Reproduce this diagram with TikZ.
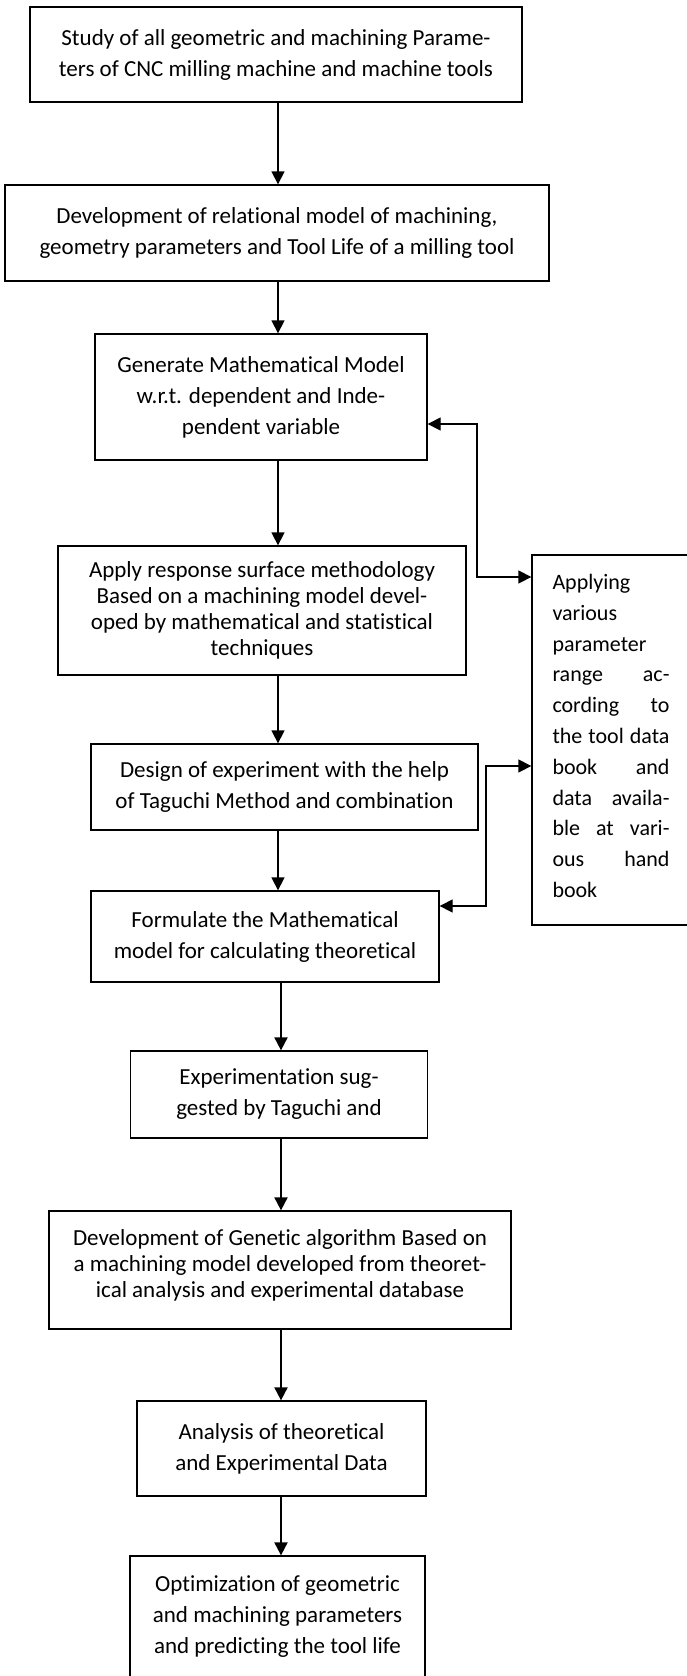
\documentclass[tikz,border=0pt]{standalone}
\usepackage{fontspec}
\setmainfont[Ligatures=NoCommon]{Carlito}
\usetikzlibrary{arrows.meta}

\tikzset{
    stepbox/.style={draw, line width=1.3pt, align=center, inner sep=0pt,
        font=\fontsize{23}{31}\selectfont},
    tightbox/.style={stepbox, font=\fontsize{23}{26}\selectfont},
    arr/.style={line width=1.3pt, -{Triangle[length=13pt, width=13pt]}},
    thickarr/.style={arr, line width=2pt},
    both/.style={line width=1.3pt, {Triangle[length=13pt, width=13pt]}-{Triangle[length=13pt, width=13pt]}},
}

\begin{document}
\begin{tikzpicture}[x=1pt, y=-1pt]
    \useasboundingbox (0, 0) rectangle (687, 1676);

    % main chain
    \node[stepbox, minimum width=492pt, minimum height=95pt]  (study)  at (276, 54.5)
        {Study of all geometric and machining Parame-\\ters of CNC milling machine and machine tools};
    \node[stepbox, minimum width=544pt, minimum height=96pt]  (relmod) at (277, 233)
        {Development of relational model of machining,\\geometry parameters and Tool Life of a milling tool};
    \node[stepbox, minimum width=332pt, minimum height=126pt] (genmod) at (261, 397)
        {Generate Mathematical Model\\w.r.t. dependent and Inde-\\pendent variable};
    \node[tightbox, minimum width=408pt, minimum height=129pt] (rsm)   at (262, 610.5)
        {Apply response surface methodology\\Based on a machining model devel-\\oped by mathematical and statistical\\techniques};
    \node[stepbox, minimum width=387pt, minimum height=86pt]  (doe)    at (284.5, 787)
        {Design of experiment with the help\\of Taguchi Method and combination};
    \node[stepbox, minimum width=348pt, minimum height=91pt]  (formul) at (265, 936.5)
        {Formulate the Mathematical\\model for calculating theoretical};
    \node[stepbox, minimum width=297pt, minimum height=87pt]  (expt)   at (279, 1094.5)
        {Experimentation sug-\\gested by Taguchi and};
    \node[tightbox, minimum width=462pt, minimum height=118pt] (ga)    at (280, 1270)
        {Development of Genetic algorithm Based on\\a machining model developed from theoret-\\ical analysis and experimental database\\[-13pt]~};
    \node[stepbox, minimum width=289pt, minimum height=95pt]  (anal)   at (281.5, 1448.5)
        {Analysis of theoretical\\and Experimental Data};
    \node[stepbox, minimum width=295pt, minimum height=122pt] (optim)  at (277.5, 1617)
        {Optimization of geometric\\and machining parameters\\and predicting the tool life};

    % side box
    \node[draw, line width=1.3pt, minimum width=158pt, minimum height=370pt, inner sep=0pt] (range) at (611, 740) {};
    \node[text width=117pt, align=left, inner sep=0pt, font=\fontsize{22}{30.8}\selectfont] (rangetxt) at (611, 736)
        {Applying\\various\\parameter\\range\hfill ac-\\cording\hfill to\\the\hfill tool\hfill data\\book\hfill and\\data\hfill availa-\\ble\hfill at\hfill vari-\\ous\hfill hand\\book};

    \coordinate (spineA) at (278, 0);
    \coordinate (spineB) at (281, 0);
    \coordinate (kneeA1) at (477, 424);
    \coordinate (kneeA2) at (477, 577);
    \coordinate (kneeB1) at (486, 766);
    \coordinate (kneeB2) at (486, 906);

    \draw[arr] (study.south -| spineA) -- (relmod.north -| spineA);
    \draw[arr] (relmod.south -| spineA) -- (genmod.north -| spineA);
    \draw[arr] (genmod.south -| spineA) -- (rsm.north -| spineA);
    \draw[arr] (rsm.south -| spineA) -- (doe.north -| spineA);
    \draw[arr] (doe.south -| spineA) -- (formul.north -| spineA);
    \draw[thickarr] (formul.south -| spineB) -- (expt.north -| spineB);
    \draw[thickarr] (expt.south -| spineB) -- (ga.north -| spineB);
    \draw[thickarr] (ga.south -| spineB) -- (anal.north -| spineB);
    \draw[thickarr] (anal.south -| spineB) -- (optim.north -| spineB);

    % feedback loops
    \draw[both] (genmod.east |- kneeA1) -- (kneeA1) -- (kneeA2) -- (range.west |- kneeA2);
    \draw[both] (range.west |- kneeB1) -- (kneeB1) -- (kneeB2) -- (formul.east |- kneeB2);
\end{tikzpicture}
\end{document}
